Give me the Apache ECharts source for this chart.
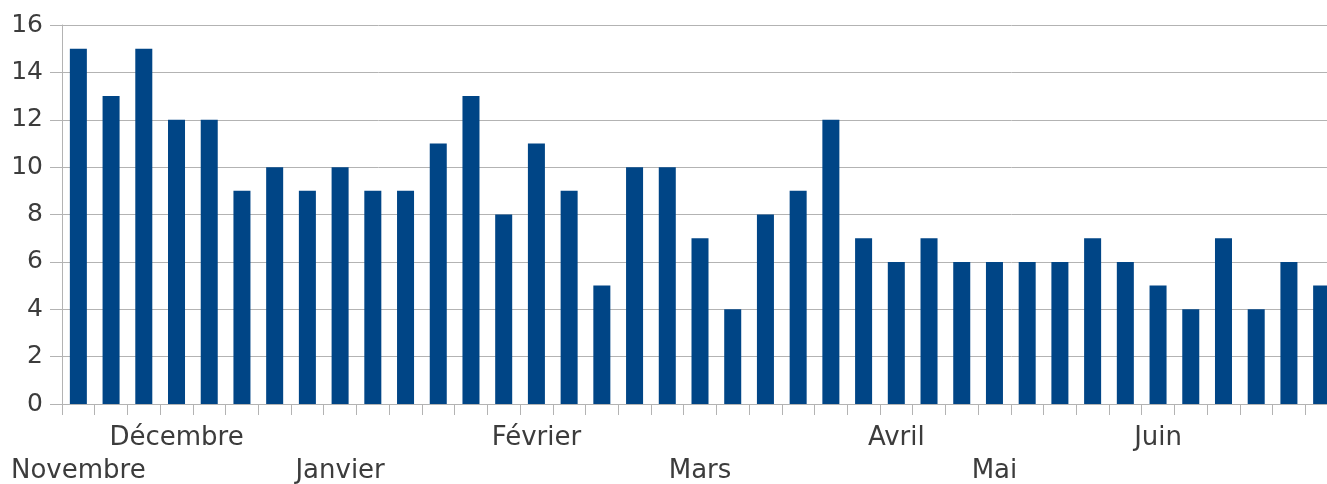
<!DOCTYPE html>
<html>
<head>
<meta charset="utf-8">
<script src="https://cdn.jsdelivr.net/npm/echarts@6/dist/echarts.min.js"></script>
<style>
html,body{margin:0;padding:0;background:#fff;}
#c{width:1327px;height:484px;}
</style>
</head>
<body>
<div id="c"></div>
<script>
// 39 weekly categories
const weeks = ['1','2','3','4','5','6','7','8','9','10','11','12','13','14','15','16','17','18','19','20',
  '21','22','23','24','25','26','27','28','29','30','31','32','33','34','35','36','37','38','39'];
const values = [15,13,15,12,12,9,10,9,10,9,9,11,13,8,11,9,5,10,10,7,4,8,9,12,7,6,7,6,6,6,6,7,6,5,4,7,4,6,5];
// month label shown under a given week (empty = no label); row 0 = upper, 1 = lower
const monthLabels = ['Novembre','','','Décembre','','','','','Janvier','','','','','','Février','','','','','Mars',
  '','','','','','Avril','','','Mai','','','','','Juin','','','','',''];
const monthRows =   [1,0,0,0,0,0,0,0,1,0,0,0,0,0,0,0,0,0,0,1,0,0,0,0,0,0,0,0,1,0,0,0,0,0,0,0,0,0,0];
const yTicks = [0,2,4,6,8,10,12,14,16];

const FONT = "'DejaVu Sans',Verdana,sans-serif";
const chart = echarts.init(document.getElementById('c'), null, {renderer:'canvas'});
chart.setOption({
  animation:false,
  grid:{left:62, width:1276, top:25, height:379, containLabel:false, outerBoundsMode:'none'},
  xAxis:{
    type:'category',
    data:weeks,
    axisLine:{show:true, lineStyle:{color:'#b3b3b3', width:1}},
    axisTick:{show:true, interval:0, length:11, lineStyle:{color:'#b3b3b3'}},
    axisLabel:{
      interval:0, margin:18, color:'#3c3c3c', fontFamily:FONT, fontSize:26, lineHeight:33,
      formatter:function(v, i){ const t = monthLabels[i]; if(!t) return ''; return monthRows[i] ? '\n' + t : t; }
    },
    splitLine:{show:false}
  },
  yAxis:{
    type:'value', min:yTicks[0], max:yTicks[yTicks.length-1], interval:2,
    axisLine:{show:true, lineStyle:{color:'#b3b3b3', width:1}},
    axisTick:{show:true, length:12, lineStyle:{color:'#b3b3b3'}},
    axisLabel:{margin:19, color:'#3c3c3c', fontFamily:FONT, fontSize:25},
    splitLine:{show:true, lineStyle:{color:'#b3b3b3', width:1}}
  },
  series:[{
    type:'bar', data:values, barWidth:'52%',
    itemStyle:{color:'#004586'}
  }]
});
</script>
</body>
</html>
